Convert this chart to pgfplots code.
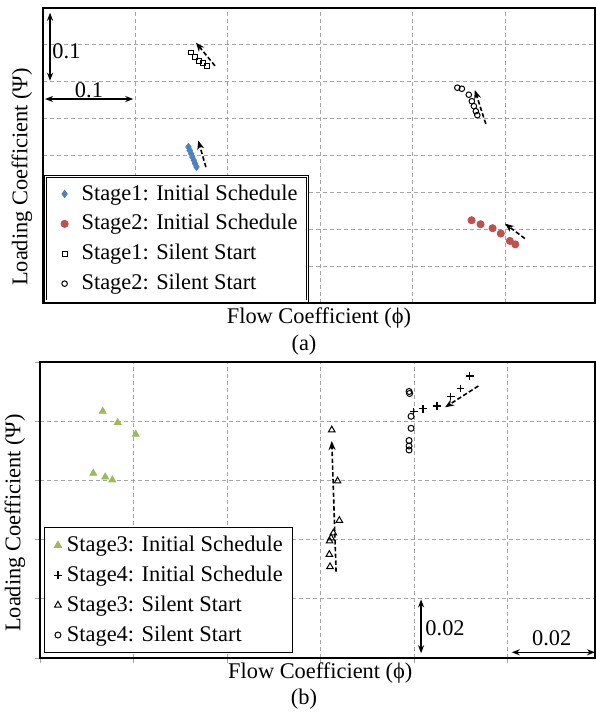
\documentclass[border=0pt]{standalone}
\usepackage{pgfplots}
\pgfplotsset{compat=1.18}
\usepackage{fontspec}
\setmainfont{Liberation Serif}
\usetikzlibrary{arrows.meta}
\definecolor{s1blue}{HTML}{4F81BD}
\definecolor{s2red}{HTML}{C0504D}
\definecolor{s3green}{HTML}{9BBB59}
\definecolor{gridgray}{RGB}{165,165,165}
\pgfplotsset{
  mypanel/.style={
    scale only axis,
    axis line style={black, line width=0.9pt},
    grid=major,
    major grid style={gridgray, line width=0.5pt, dash pattern=on 2pt off 1.5pt},
    xticklabels={}, yticklabels={},
    legend cell align=left,
    clip=true,
  },
  trend/.style={black, line width=0.8pt, dash pattern=on 2.2pt off 1.2pt, -{Stealth[length=4.5pt,width=3.5pt]}, forget plot},
  scalebar/.style={black, line width=0.7pt, {Stealth[length=4pt,width=3pt]}-{Stealth[length=4pt,width=3pt]}, forget plot},
}
\begin{document}
\fontsize{11.2}{13.4}\selectfont
\begin{tikzpicture}
\useasboundingbox (0,0) rectangle (297.5pt,-357.5pt);
% ---------------- panel (a)
\begin{axis}[mypanel,
  at={(21.5pt,-4pt)}, anchor=north west,
  width=276pt, height=147.5pt,
  xmin=0, xmax=0.597, ymin=0, ymax=0.4,
  xtick={0,0.1,0.2,0.3,0.4,0.5}, ytick={0,0.05,0.1,0.15,0.2,0.25,0.3,0.35,0.4},
  major tick length=0pt,
  xlabel={Flow Coefficient (ϕ)}, ylabel={Loading Coefficient (Ψ)},
  xlabel style={at={(rel axis cs:0.5,-0.051)}, anchor=center},
  ylabel style={at={(rel axis cs:-0.038,0.427)}, anchor=center},
  legend image code/.code={\path[draw=none,fill=none] (-6.5pt,0pt) (6.5pt,0pt); \draw[#1] plot coordinates {(0pt,0pt)};},
  legend style={at={(rel axis cs:0.004,0.005)}, anchor=south west, draw=black,
    double, double distance=0.8pt, inner xsep=3pt, inner ysep=2pt,
    nodes={inner sep=2pt}, row sep=1.5pt},
]
\addplot[only marks, mark=diamond*, mark size=1.8pt, color=s1blue] coordinates {
(0.1573,0.2115) (0.1587,0.2070) (0.1602,0.2025) (0.1616,0.1980) (0.1631,0.1935) (0.1645,0.1890) (0.1660,0.1845)};
\addlegendentry{Stage1: Initial Schedule}
\addplot[only marks, mark=*, mark size=1.8pt, color=s2red] coordinates {
(0.4635,0.1122) (0.4732,0.1068) (0.4862,0.1014) (0.4951,0.0942) (0.5049,0.0842) (0.5108,0.0795)};
\addlegendentry{Stage2: Initial Schedule}
\addplot[only marks, mark=square, mark size=1.2pt, color=black, mark options={line width=0.5pt}] coordinates {
(0.1600,0.3396) (0.1643,0.3338) (0.1690,0.3284) (0.1733,0.3250) (0.1773,0.3210)};
\addlegendentry{Stage1: Silent Start}
\addplot[only marks, mark=o, mark size=1.4pt, color=black, mark options={line width=0.5pt}] coordinates {
(0.4481,0.2919) (0.4530,0.2905) (0.4605,0.2824) (0.4638,0.2736) (0.4660,0.2669) (0.4681,0.2601) (0.4697,0.2547)};
\addlegendentry{Stage2: Silent Start}
% trend arrows
\addplot[trend] coordinates {(0.1860,0.3216) (0.1654,0.3530)};
\addplot[trend] coordinates {(0.1762,0.1842) (0.1679,0.2203)};
\addplot[trend] coordinates {(0.4789,0.2428) (0.4670,0.2888)};
\addplot[trend] coordinates {(0.5211,0.0874) (0.4995,0.1077)};
% scale bars
\addplot[scalebar] coordinates {(0.0076,0.3936) (0.0076,0.3014)};
\addplot[scalebar] coordinates {(0.0022,0.2766) (0.0976,0.2766)};
\node at (axis cs:0.0254,0.3419) {0.1};
\node at (axis cs:0.0497,0.2890) {0.1};
\end{axis}
\node at (152pt,-172.5pt) {(a)};
% ---------------- panel (b)
\begin{axis}[mypanel,
  at={(20pt,-181pt)}, anchor=north west,
  width=277.5pt, height=148pt,
  xmin=0, xmax=0.1187, ymin=0, ymax=0.1,
  xtick={0,0.02,0.04,0.06,0.08,0.1}, ytick={0,0.02,0.04,0.06,0.08,0.1},
  tick align=outside, major tick length=2.5pt, tick style={gridgray, line width=0.5pt},
  xtick pos=bottom, ytick pos=left,
  xlabel={Flow Coefficient (ϕ)}, ylabel={Loading Coefficient (Ψ)},
  xlabel style={at={(rel axis cs:0.505,-0.051)}, anchor=center},
  ylabel style={at={(rel axis cs:-0.045,0.456)}, anchor=center},
  legend image code/.code={\path[draw=none,fill=none] (-3.5pt,0pt) (2.5pt,0pt); \draw[#1] plot coordinates {(0pt,0pt)};},
  legend style={at={(rel axis cs:0.008,0.017)}, anchor=south west, draw=black,
    line width=0.5pt, inner xsep=3pt, inner ysep=2pt,
    nodes={inner sep=2pt}, row sep=1.5pt},
]
\addplot[only marks, mark=triangle*, mark size=2pt, color=s3green] coordinates {
(0.01341,0.08334) (0.01662,0.07956) (0.02047,0.07557) (0.01140,0.06240) (0.01395,0.06115) (0.01547,0.06014)};
\addlegendentry{Stage3: Initial Schedule}
\addplot[only marks, mark=+, mark size=1.9pt, color=black, mark options={line width=0.6pt}] coordinates {
(0.07993,0.08334) (0.08193,0.08422) (0.08492,0.08514) (0.08785,0.08841) (0.08991,0.09111) (0.09191,0.09527)};
\addlegendentry{Stage4: Initial Schedule}
\addplot[only marks, mark=triangle, mark size=1.9pt, color=black, mark options={line width=0.5pt}] coordinates {
(0.06240,0.07703) (0.06364,0.05980) (0.06402,0.04645) (0.06274,0.04223) (0.06225,0.04054) (0.06193,0.03953) (0.06188,0.03497) (0.06203,0.03084)};
\addlegendentry{Stage3: Silent Start}
\addplot[only marks, mark=o, mark size=1.5pt, color=black, mark options={line width=0.5pt}] coordinates {
(0.07893,0.09003) (0.07904,0.08936) (0.07936,0.08166) (0.07936,0.07760) (0.07893,0.07348) (0.07893,0.07162) (0.07893,0.07027)};
\addlegendentry{Stage4: Silent Start}
% trend arrows
\addplot[trend] coordinates {(0.06332,0.02916) (0.06240,0.07331)};
\addplot[trend] coordinates {(0.09375,0.09189) (0.08663,0.08470)};
% scale bars
\addplot[scalebar] coordinates {(0.0815,0.0198) (0.0815,0.0016)};
\addplot[scalebar] coordinates {(0.1009,0.00193) (0.1187,0.00193)};
\node at (axis cs:0.08663,0.01014) {0.02};
\node at (axis cs:0.10945,0.00666) {0.02};
\end{axis}
\node at (152pt,-349.5pt) {(b)};
\end{tikzpicture}
\end{document}
